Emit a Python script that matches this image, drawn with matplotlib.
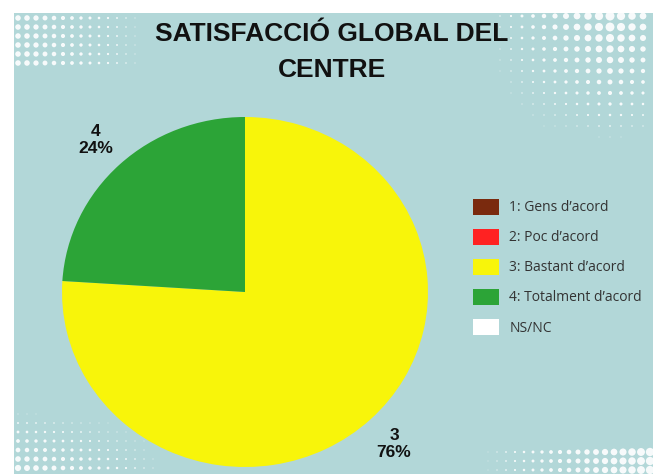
import numpy as np
import matplotlib
matplotlib.use('Agg')
import matplotlib.pyplot as plt
from matplotlib.patches import Rectangle

# data
categories = ['1: Gens d\u2019acord', '2: Poc d\u2019acord', '3: Bastant d\u2019acord',
              '4: Totalment d\u2019acord', 'NS/NC']
short_labels = ['1', '2', '3', '4', 'NS/NC']
shares = [0, 0, 76, 24, 0]
colors = ['#7a2a0e', '#ff2222', '#f8f50a', '#2ca437', '#ffffff']
title = 'SATISFACCI\u00d3 GLOBAL DEL\nCENTRE'

W, H = 662, 474
BG = '#b2d7d8'

fig = plt.figure(figsize=(W / 100, H / 100), dpi=100)
fig.patch.set_facecolor('white')

# background panel
bg = fig.add_axes([0, 0, 1, 1])
bg.set_xlim(0, W)
bg.set_ylim(H, 0)
bg.axis('off')
bg.add_patch(Rectangle((14, 13), 639, 470, facecolor=BG, edgecolor='none'))


# halftone dot decoration in the corners (dmax = largest dot diameter in pt)
def halftone(x0, x1, y0, y1, step, fx, fy, dmax):
    xs = np.arange(x0, x1, step)
    ys = np.arange(y0, y1, step)
    gx, gy = np.meshgrid(xs, ys)
    d = dmax * np.clip(fx(gx), 0, 1) * np.clip(fy(gy), 0, 1)
    m = d > 0.6
    bg.scatter(gx[m], gy[m], s=d[m] ** 2, color='white', linewidths=0,
               alpha=0.9, zorder=2)


halftone(18, 160, 18, 66, 9, lambda x: (160 - x) / 130.0, lambda y: 1.0, 4.0)
halftone(500, 652, 16, 150, 11, lambda x: 1 - np.abs(x - 610) / 130.0,
         lambda y: (150 - y) / 125.0, 6.5)
halftone(18, 180, 405, 474, 9, lambda x: (180 - x) / 160.0,
         lambda y: (y - 405) / 60.0, 4.5)
halftone(470, 652, 452, 474, 9, lambda x: (x - 470) / 180.0, lambda y: 1.0, 6.0)
bg.add_patch(Rectangle((0, 0), W, 13, facecolor='white', edgecolor='none', zorder=3))
bg.add_patch(Rectangle((653, 0), 9, H, facecolor='white', edgecolor='none', zorder=3))
bg.add_patch(Rectangle((0, 0), 14, H, facecolor='white', edgecolor='none', zorder=3))

bg.text(332, 34, title.split('\n')[0], ha='center', va='center',
        fontsize=19, fontweight='bold', family='Liberation Sans', color='#111111', zorder=4)
bg.text(332, 70, title.split('\n')[1], ha='center', va='center',
        fontsize=19, fontweight='bold', family='Liberation Sans', color='#111111', zorder=4)

# pie
px0, px1, py0, py1 = 62, 428, 117, 467
ax = fig.add_axes([px0 / W, 1 - py1 / H, (px1 - px0) / W, (py1 - py0) / H])
labels = ['%s\n%d%%' % (l, v) if v > 0 else '' for l, v in zip(short_labels, shares)]
wedges, texts = ax.pie(shares, colors=colors, startangle=90, counterclock=False,
                       labels=labels, labeldistance=1.19,
                       wedgeprops=dict(edgecolor='none'),
                       textprops=dict(fontsize=12.5, fontweight='bold', color='#111111',
                                      family='Liberation Sans', linespacing=1.15))
for t in texts:
    t.set_ha('center')
    t.set_va('center')
ax.set_aspect('auto')
ax.set_xlim(-1, 1)
ax.set_ylim(-1, 1)

leg = fig.legend(wedges, categories, loc='upper left',
                 bbox_to_anchor=(460 / W, 1 - 186 / H), frameon=False,
                 handlelength=1.9, handleheight=1.45,
                 handletextpad=0.75, labelspacing=0.95,
                 prop=dict(family='Open Sans', size=10))
for t in leg.get_texts():
    t.set_color('#333333')

fig.savefig('out.png', dpi=100, facecolor=fig.get_facecolor())
